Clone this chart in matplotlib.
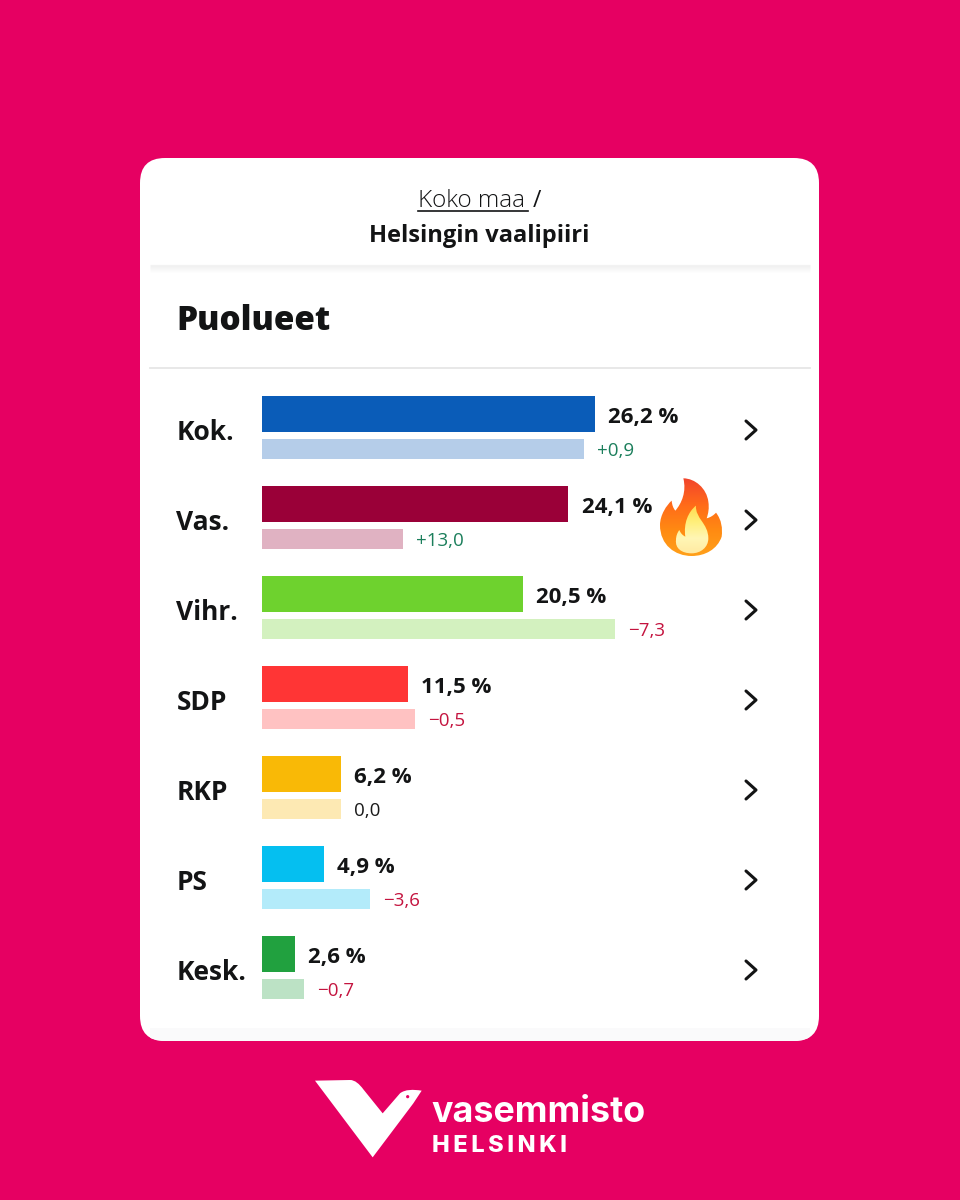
import numpy as np
import matplotlib
matplotlib.use("Agg")
import matplotlib.pyplot as plt
from matplotlib.patches import FancyBboxPatch, PathPatch, Circle, Rectangle
from matplotlib.path import Path

# Party results, Helsinki
parties = ["Kok.", "Vas.", "Vihr.", "SDP", "RKP", "PS", "Kesk."]
share = [26.2, 24.1, 20.5, 11.5, 6.2, 4.9, 2.6]
previous = [25.3, 11.1, 27.8, 12.0, 6.2, 8.5, 3.3]
share_labels = ["26,2 %", "24,1 %", "20,5 %", "11,5 %", "6,2 %", "4,9 %", "2,6 %"]
change_labels = ["+0,9", "+13,0", "−7,3", "−0,5", "0,0", "−3,6", "−0,7"]
change_colors = ["#1c7f5c", "#1c7f5c", "#c4143f", "#c4143f", "#1a1a1a", "#c4143f", "#c4143f"]
colors = ["#0a5cb8", "#9a0038", "#6ed22e", "#ff3535", "#f9b906", "#05bff0", "#21a13f"]

PINK = "#e60062"
INK = "#131415"
FONT = "Open Sans"
plt.rcParams["font.family"] = FONT

fig = plt.figure(figsize=(9.6, 12), dpi=100, facecolor=PINK)

# Page layer, in pixels
bg = fig.add_axes([0, 0, 1, 1])
bg.set_xlim(0, 960)
bg.set_ylim(1200, 0)
bg.axis("off")

card = FancyBboxPatch((140, 158), 679, 883, boxstyle="round,pad=0,rounding_size=25",
                      fc="white", ec="none")
bg.add_patch(card)
bottom_band = Rectangle((150, 1028), 660, 13, fc="#fafafb", ec="none")
bg.add_patch(bottom_band)
bottom_band.set_clip_path(card)

# Header
bg.text(472, 201, "Koko maa", fontsize=17.5, color=INK, ha="center", va="center", fontweight="light")
bg.plot([418, 528], [210.5, 210.5], color=INK, lw=1.2)
bg.text(537, 201, "/", fontsize=16.5, color=INK, ha="center", va="center")
bg.text(479, 236, "Helsingin vaalipiiri", fontsize=17, color=INK, ha="center", va="center", fontweight="bold")

# Divider with soft shadow
for i in range(8):
    bg.plot([150, 810], [265 + i, 265 + i], color="#000000", alpha=0.045 * (1 - i / 8), lw=1, solid_capstyle="butt")
bg.plot([150, 810], [368, 368], color="#e6e6e6", lw=1.3)
bg.text(176, 321, "Puolueet", fontsize=24, color=INK, ha="left", va="center", fontweight="heavy")

# Bars, in percent units
ax = fig.add_axes([262 / 960, 1 - 1015 / 1200, 520 / 960, 630 / 1200])
ax.set_xlim(0, 520 / 12.71)
ax.set_ylim(7, 0)
ax.axis("off")
ax.patch.set_alpha(0)

y = np.arange(len(parties))
ax.barh(y + 28.5 / 90, share, height=36 / 90, color=colors)
ax.barh(y + 63.5 / 90, previous, height=20 / 90, color=colors, alpha=0.3)

for i in range(len(parties)):
    ax.annotate(share_labels[i], (share[i], y[i] + 29 / 90), xytext=(9.5, -2.5), textcoords="offset points",
                fontsize=16, fontweight="bold", color=INK, va="center", ha="left")
    ax.annotate(change_labels[i], (previous[i], y[i] + 64 / 90), xytext=(9.5, -1.8), textcoords="offset points",
                fontsize=13.5, color=change_colors[i], va="center", ha="left")
    row_mid = 430 + 90 * i
    bg.text(176.5, row_mid + 3, parties[i], fontsize=19, fontweight="bold", color=INK, va="center", ha="left")
    bg.plot([746, 756, 746], [row_mid - 9, row_mid, row_mid + 9], color=INK, lw=2.2,
            solid_capstyle="round", solid_joinstyle="round")


def px(points, ox, oy):
    return [(ox + a / 3, oy + b / 3) for a, b in points]


# Flame emoji
M, L, C = Path.MOVETO, Path.LINETO, Path.CURVE4
outer = [(130, 55), (165, 55), (200, 85), (205, 125), (208, 145), (205, 160), (200, 175),
         (212, 172), (222, 165), (228, 158), (245, 180), (248, 205), (245, 230),
         (232, 268), (195, 288), (155, 288), (105, 288), (60, 255), (60, 195),
         (60, 165), (80, 135), (95, 122), (96, 135), (100, 145), (106, 152),
         (125, 130), (140, 95), (130, 55)]
outer_codes = [M] + [C] * (len(outer) - 1)
inner = [(168, 137), (165, 175), (205, 190), (205, 235), (205, 262), (182, 280), (155, 280),
         (125, 280), (105, 265), (108, 240), (108, 228), (112, 218), (118, 210),
         (122, 220), (128, 226), (136, 230), (130, 190), (145, 155), (168, 137)]
inner_codes = [M] + [C] * (len(inner) - 1)

grad = np.linspace(0, 1, 100).reshape(-1, 1)
flame_out = matplotlib.colors.LinearSegmentedColormap.from_list("fo", ["#f2442c", "#ff6a1a", "#ff8a12", "#ffa01a"])
flame_in = matplotlib.colors.LinearSegmentedColormap.from_list("fi", ["#ffd94d", "#ffef7a", "#fff6b5", "#ffe9a0"])

outer_patch = PathPatch(Path(px(outer, 640, 460), outer_codes), fc="none", ec="none", transform=bg.transData)
bg.add_patch(outer_patch)
im = bg.imshow(grad, extent=(655, 725, 556, 478), cmap=flame_out, aspect="auto", zorder=3)
im.set_clip_path(outer_patch)
inner_patch = PathPatch(Path(px(inner, 640, 460), inner_codes), fc="none", ec="none", transform=bg.transData)
bg.add_patch(inner_patch)
im2 = bg.imshow(grad, extent=(670, 712, 555, 505), cmap=flame_in, aspect="auto", zorder=4)
im2.set_clip_path(inner_patch)
bg.set_xlim(0, 960)
bg.set_ylim(1200, 0)

# Logo
bird_verts = [(45, 62), (150, 60), (165, 60), (178, 72), (190, 88), (248, 160), (300, 100),
              (315, 88), (340, 88), (365, 92), (340, 130), (218, 292), (45, 62)]
bird_codes = [M, L, C, C, C, L, L, C, C, C, L, L, L]
bg.add_patch(PathPatch(Path(px(bird_verts, 300, 1060), bird_codes), fc="white", ec="none"))
bg.add_patch(Circle((300 + 323 / 3, 1060 + 110 / 3), 1.6, fc=PINK, ec="none"))
bg.text(431, 1112, "vasemmisto", fontsize=25.8, color="white", fontweight="bold", family="Inter",
        ha="left", va="center")
bg.text(432, 1146, "H E L S I N K I".replace(" ", "\u2009"), fontsize=17, color="white", fontweight="heavy",
        family="Inter", ha="left", va="center")

fig.savefig("out.png", dpi=100, facecolor=PINK)
